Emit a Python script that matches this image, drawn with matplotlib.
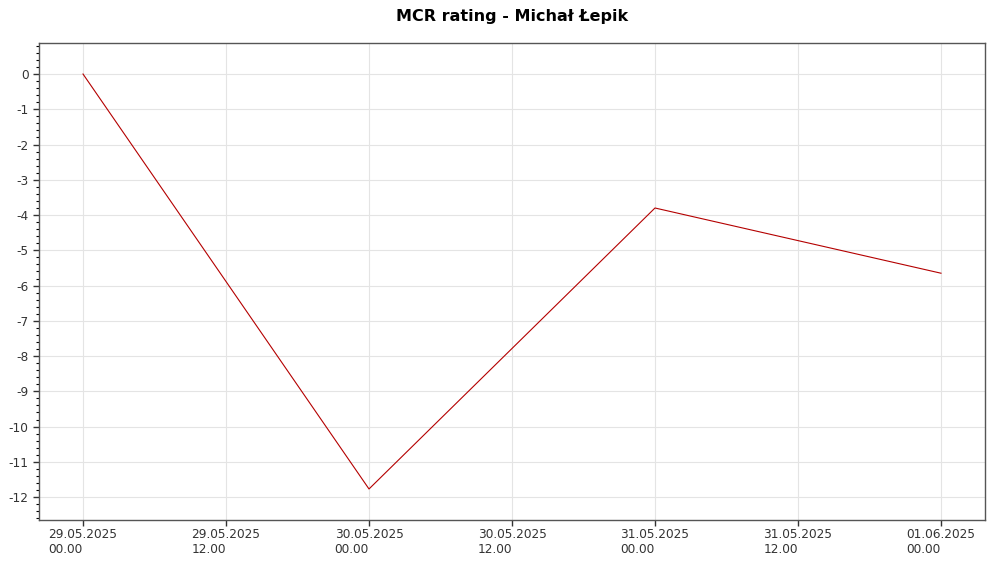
import datetime as dt
import matplotlib
matplotlib.use('Agg')
import matplotlib.pyplot as plt
import matplotlib.dates as mdates
from matplotlib.ticker import MultipleLocator

plt.rcParams['axes.unicode_minus'] = False

# rating points
dates = [dt.datetime(2025, 5, 29), dt.datetime(2025, 5, 30),
         dt.datetime(2025, 5, 31), dt.datetime(2025, 6, 1)]
rating = [0.0, -11.77, -3.8, -5.65]

title = 'MCR rating - Michał Łepik'

fig = plt.figure(figsize=(10, 5.63), dpi=100)
ax = fig.add_axes([0.039, 1 - 520 / 563, 0.946, (520 - 43) / 563])

ax.plot(dates, rating, color='#b40000', lw=0.8)

span = dates[-1] - dates[0]
ax.set_xlim(dates[0] - span * 0.0513, dates[-1] + span * 0.0513)
ax.set_ylim(-12.65, 0.88)

ax.xaxis.set_major_locator(mdates.HourLocator(byhour=[0, 12]))
ax.xaxis.set_major_formatter(mdates.DateFormatter('%d.%m.%Y\n%H.%M'))
ax.yaxis.set_major_locator(MultipleLocator(1))
ax.yaxis.set_minor_locator(MultipleLocator(0.2))

for lab in ax.get_xticklabels():
    lab.set_multialignment('left')

ax.tick_params(axis='both', labelsize=8.7, colors='#333333', length=4, width=1)
ax.tick_params(axis='y', which='minor', length=2, width=0.8)
ax.tick_params(axis='x', pad=2)
ax.grid(True, which='major', color='#e4e4e4', lw=0.8)

for s in ax.spines.values():
    s.set_color('#555555')
    s.set_linewidth(1)

fig.text(0.512, 1 - 16 / 563, title, ha='center', va='center',
         fontsize=11.5, fontweight='bold')

fig.savefig('out.png', dpi=100)
